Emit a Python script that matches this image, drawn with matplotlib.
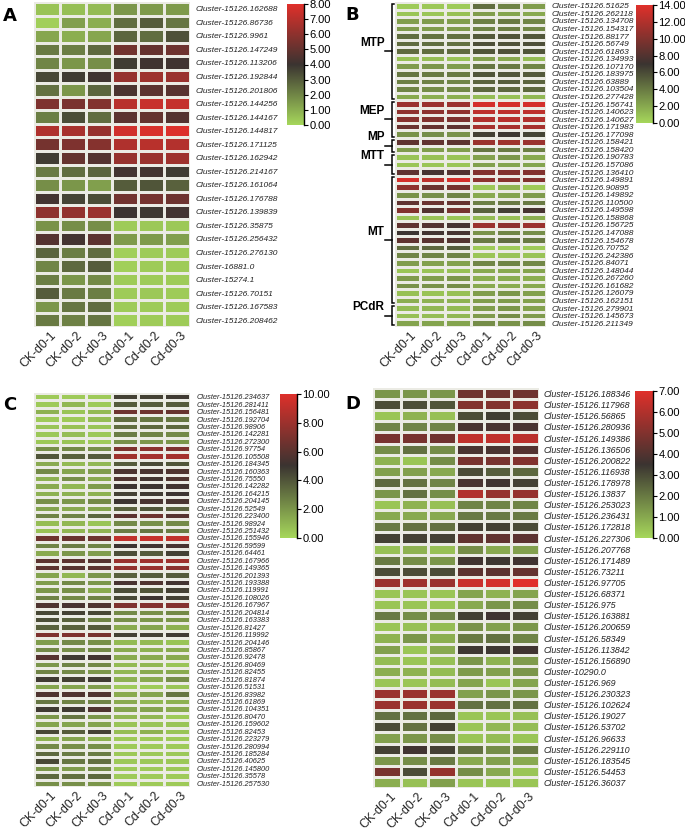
import matplotlib.pyplot as plt
import numpy as np
from matplotlib.colors import LinearSegmentedColormap
from matplotlib.transforms import ScaledTranslation

plt.rcParams['font.family'] = ['Liberation Sans', 'DejaVu Sans']

samples = ['CK-d0-1', 'CK-d0-2', 'CK-d0-3', 'Cd-d0-1', 'Cd-d0-2', 'Cd-d0-3']

# Panel A (scale 0-8)
a_ids = ['15126.162688', '15126.86736', '15126.9961', '15126.147249', '15126.113206',
         '15126.192844', '15126.201806', '15126.144256', '15126.144167', '15126.144817',
         '15126.171125', '15126.162942', '15126.214167', '15126.161064', '15126.176788',
         '15126.139839', '15126.35875', '15126.256432', '15126.276130', '16881.0',
         '15274.1', '15126.70151', '15126.167583', '15126.208462']
a_values = [
    [0.5, 0.6, 0.7, 1.6, 1.5, 1.5], [0.2, 1.4, 1.0, 2.6, 3.0, 2.4],
    [1.2, 1.0, 1.2, 2.8, 2.6, 3.3], [2.3, 2.2, 2.7, 5.3, 5.0, 5.2],
    [2.0, 1.6, 1.8, 3.8, 4.1, 4.1], [3.5, 3.8, 4.1, 6.2, 6.4, 6.3],
    [2.5, 1.6, 2.8, 4.4, 4.8, 4.7], [5.6, 5.5, 5.7, 7.0, 7.4, 7.3],
    [2.2, 3.4, 2.6, 4.8, 5.0, 4.6], [6.8, 6.6, 6.2, 7.6, 7.8, 7.9],
    [5.4, 5.6, 5.8, 6.8, 7.0, 6.9], [3.8, 5.0, 4.6, 6.2, 6.3, 6.4],
    [2.3, 2.6, 2.8, 4.2, 4.2, 3.8], [1.8, 1.6, 1.4, 3.0, 3.2, 2.9],
    [4.2, 3.6, 3.4, 5.3, 5.4, 5.2], [6.0, 6.1, 6.3, 4.0, 3.9, 4.2],
    [1.7, 1.8, 1.8, 0.3, 0.4, 0.4], [4.6, 4.2, 4.8, 1.5, 1.5, 1.4],
    [2.8, 2.2, 2.6, 0.2, 0.3, 0.3], [2.0, 2.7, 3.0, 0.2, 0.3, 0.3],
    [2.2, 1.6, 1.9, 0.3, 0.3, 0.3], [3.0, 2.3, 2.2, 0.3, 0.4, 0.3],
    [1.6, 2.4, 2.6, 0.3, 0.3, 0.3], [2.3, 2.1, 2.4, 0.2, 0.3, 0.3]]

# Panel B (scale 0-14)
b_ids = ['51625', '262118', '134708', '154317', '88177', '56749', '61863', '134993',
         '107170', '183975', '63889', '103504', '277428', '156741', '140623', '140627',
         '171983', '177098', '158421', '158420', '190783', '157086', '136410', '149891',
         '90895', '149892', '110500', '149598', '158868', '156725', '147088', '154678',
         '70752', '242386', '84071', '148044', '267260', '161682', '126079', '162151',
         '279901', '145673', '211349']
b_values = [
    [0.5, 0.7, 0.5, 4.5, 3.6, 2.5], [0.8, 0.8, 1.0, 2.5, 2.2, 2.0],
    [2.5, 2.6, 2.5, 3.8, 4.0, 3.5], [2.6, 2.5, 2.6, 3.6, 3.8, 3.4],
    [4.5, 4.3, 4.4, 5.4, 5.6, 5.5], [4.6, 4.5, 4.4, 5.8, 5.7, 5.8],
    [4.7, 4.6, 4.7, 5.6, 5.7, 5.6], [1.0, 1.1, 0.9, 2.3, 2.0, 1.2],
    [2.6, 2.8, 2.5, 4.2, 4.0, 3.5], [4.2, 4.0, 4.0, 5.6, 5.5, 5.4],
    [3.8, 3.7, 3.6, 5.0, 5.2, 5.0], [3.5, 3.2, 3.4, 4.8, 4.8, 4.8],
    [2.0, 1.8, 1.8, 1.2, 1.0, 1.4], [11.0, 11.0, 11.0, 13.5, 13.5, 13.5],
    [10.5, 10.4, 10.5, 12.5, 12.5, 12.5], [10.2, 10.0, 9.8, 12.0, 12.2, 12.0],
    [9.0, 8.8, 8.5, 11.5, 11.5, 11.5], [3.0, 3.2, 3.0, 6.5, 6.8, 6.3],
    [8.5, 8.6, 8.4, 11.0, 11.2, 11.0], [2.6, 2.5, 2.5, 4.2, 4.0, 3.8],
    [0.9, 1.0, 0.9, 2.3, 2.8, 2.0], [0.8, 0.8, 0.8, 2.4, 2.2, 2.2],
    [8.5, 7.5, 8.0, 10.0, 10.0, 10.0], [13.5, 12.5, 13.5, 10.5, 10.3, 10.0],
    [10.5, 9.0, 9.5, 0.7, 1.5, 0.6], [3.0, 3.1, 3.5, 2.0, 2.2, 2.6],
    [8.5, 9.0, 8.8, 3.8, 4.0, 4.0], [10.0, 8.0, 9.5, 5.0, 6.5, 7.5],
    [0.9, 0.9, 0.8, 1.2, 1.0, 1.8], [8.5, 8.0, 7.5, 11.0, 10.5, 11.0],
    [7.0, 7.3, 7.5, 3.0, 3.5, 3.2], [8.5, 8.3, 8.0, 4.0, 4.5, 4.0],
    [4.5, 4.8, 5.3, 0.5, 0.5, 0.6], [3.5, 3.5, 3.6, 0.8, 0.9, 0.9],
    [2.5, 2.4, 2.3, 3.5, 3.6, 3.4], [0.8, 0.9, 1.0, 2.0, 2.0, 2.2],
    [2.6, 2.5, 2.8, 1.8, 1.9, 1.8], [3.0, 3.0, 3.2, 2.0, 1.9, 2.0],
    [1.0, 0.9, 1.0, 2.5, 2.8, 2.4], [1.8, 1.6, 1.6, 2.5, 2.6, 2.4],
    [1.2, 1.4, 1.3, 2.5, 2.8, 2.3], [1.0, 1.1, 1.4, 2.6, 3.2, 2.6],
    [2.2, 2.2, 2.2, 3.2, 3.0, 3.2]]
b_groups = ['MTP', 'MEP', 'MP', 'MTT', 'MT', 'PCdR']
b_group_sizes = [13, 5, 2, 3, 17, 3]

# Panel C (scale 0-10)
c_ids = ['234637', '281411', '156481', '192704', '98906', '142281', '272300', '97754',
         '105508', '184345', '160363', '75550', '142282', '164215', '204145', '52549',
         '223400', '98924', '251432', '155946', '59599', '64461', '167966', '149365',
         '201393', '193388', '119991', '108026', '167967', '204814', '163383', '81427',
         '119992', '204146', '85867', '92478', '80469', '82455', '81874', '51531',
         '83982', '61869', '104351', '80470', '159602', '82453', '223279', '280994',
         '185284', '40625', '145800', '35578', '257530']
c_values = [
    [0.4, 0.4, 0.4, 4.6, 4.6, 4.8], [0.4, 1.0, 0.4, 3.8, 3.8, 3.8],
    [1.2, 0.6, 0.9, 6.5, 6.5, 6.3], [0.4, 0.4, 0.8, 3.3, 3.0, 3.0],
    [0.6, 0.7, 0.6, 3.3, 3.4, 3.4], [0.5, 0.8, 0.5, 2.8, 2.6, 2.4],
    [0.5, 0.6, 0.4, 2.2, 2.0, 2.0], [2.2, 2.4, 2.2, 7.0, 7.4, 7.0],
    [4.0, 3.6, 3.8, 8.0, 8.2, 8.2], [1.4, 0.9, 1.0, 3.8, 4.3, 4.0],
    [2.4, 1.6, 1.8, 5.5, 5.4, 5.6], [1.2, 2.2, 1.4, 5.6, 5.2, 5.6],
    [1.4, 1.0, 1.8, 5.0, 5.0, 5.2], [1.2, 1.2, 1.2, 4.6, 4.8, 5.0],
    [2.2, 2.0, 2.4, 5.0, 5.4, 5.4], [1.6, 1.4, 1.6, 3.6, 4.0, 3.6],
    [2.6, 2.6, 3.5, 6.0, 6.5, 5.8], [0.8, 1.0, 0.6, 2.4, 2.2, 2.4],
    [0.7, 1.0, 1.1, 2.8, 3.0, 2.8], [6.5, 6.4, 6.5, 9.0, 9.2, 9.0],
    [2.6, 2.8, 2.6, 5.0, 5.2, 5.4], [1.4, 2.0, 1.8, 4.2, 3.8, 4.6],
    [6.0, 6.0, 5.8, 7.8, 8.0, 8.0], [6.0, 5.8, 6.0, 7.6, 7.8, 7.4],
    [1.6, 1.0, 2.0, 3.6, 3.8, 3.8], [1.8, 2.4, 2.0, 5.4, 5.6, 5.2],
    [2.0, 2.2, 1.4, 4.2, 4.0, 4.6], [2.6, 2.4, 2.6, 4.4, 5.0, 4.6],
    [5.6, 5.4, 5.6, 7.0, 7.2, 7.2], [4.4, 4.6, 4.4, 2.4, 2.2, 2.4],
    [4.2, 3.6, 2.6, 2.2, 2.0, 2.0], [3.6, 3.6, 3.8, 1.4, 1.6, 1.2],
    [7.0, 7.0, 6.8, 4.6, 4.6, 4.8], [1.8, 2.4, 2.2, 0.9, 0.9, 0.6],
    [2.4, 2.2, 2.4, 1.4, 1.2, 1.4], [5.8, 4.8, 5.2, 1.4, 1.4, 1.4],
    [2.0, 2.6, 2.4, 0.9, 1.0, 0.6], [2.6, 2.4, 2.0, 1.0, 1.4, 1.4],
    [4.8, 4.6, 4.8, 1.2, 1.4, 2.2], [1.6, 1.6, 1.8, 0.4, 0.4, 0.6],
    [5.6, 5.6, 5.6, 1.4, 1.6, 3.0], [3.0, 2.6, 2.6, 1.4, 1.0, 1.2],
    [4.8, 4.8, 5.6, 1.6, 1.6, 1.4], [2.0, 3.0, 2.0, 1.0, 1.0, 0.4],
    [1.6, 1.6, 1.6, 0.6, 0.6, 0.6], [4.4, 3.8, 4.6, 0.8, 1.2, 0.6],
    [1.2, 1.6, 1.2, 0.4, 0.4, 0.4], [2.4, 2.2, 2.2, 0.4, 0.4, 0.4],
    [3.4, 2.8, 2.8, 0.5, 0.5, 0.5], [4.4, 3.0, 3.2, 0.5, 0.5, 0.5],
    [2.0, 1.8, 2.4, 0.4, 0.4, 0.5], [3.4, 3.2, 3.4, 0.4, 0.4, 0.4],
    [2.2, 2.2, 2.0, 0.4, 0.4, 0.4]]

# Panel D (scale 0-7)
d_ids = ['15126.188346', '15126.117968', '15126.56865', '15126.280936', '15126.149386',
         '15126.136506', '15126.200822', '15126.116938', '15126.178978', '15126.13837',
         '15126.253023', '15126.236431', '15126.172818', '15126.227306', '15126.207768',
         '15126.171489', '15126.73211', '15126.97705', '15126.68371', '15126.975',
         '15126.163881', '15126.200659', '15126.58349', '15126.113842', '15126.156890',
         '10290.0', '15126.969', '15126.230323', '15126.102624', '15126.19027',
         '15126.53702', '15126.96633', '15126.229110', '15126.183545', '15126.54453',
         '15126.36037']
d_values = [
    [1.4, 1.4, 1.4, 4.6, 4.6, 4.6], [3.0, 2.9, 2.8, 5.0, 5.0, 5.2],
    [0.4, 0.8, 0.5, 3.0, 3.3, 3.0], [1.8, 1.8, 1.8, 3.8, 3.8, 3.8],
    [4.8, 4.8, 4.6, 6.3, 6.3, 6.2], [1.6, 2.2, 1.6, 3.8, 3.8, 4.0],
    [0.8, 0.4, 1.6, 4.8, 4.8, 5.0], [1.2, 1.2, 1.0, 3.0, 2.6, 2.4],
    [2.4, 2.2, 1.8, 3.8, 3.6, 3.2], [1.4, 2.2, 1.6, 6.0, 5.4, 5.4],
    [0.4, 0.8, 0.5, 1.8, 1.8, 1.8], [1.0, 1.0, 1.0, 2.0, 2.0, 2.0],
    [2.0, 2.2, 2.2, 3.2, 3.2, 3.0], [3.2, 3.2, 3.2, 4.3, 4.3, 4.2],
    [0.5, 0.8, 0.5, 1.6, 1.0, 1.2], [2.0, 1.6, 1.4, 3.6, 3.4, 3.6],
    [3.0, 3.0, 3.0, 4.2, 4.2, 4.4], [5.5, 5.6, 5.5, 6.5, 6.7, 7.0],
    [0.4, 0.4, 0.4, 1.1, 0.8, 1.1], [0.4, 0.4, 0.4, 1.0, 1.4, 1.6],
    [2.0, 1.6, 1.8, 3.2, 3.6, 3.2], [0.4, 0.5, 0.6, 1.5, 1.2, 1.4],
    [0.8, 1.4, 0.9, 2.0, 2.2, 1.8], [1.2, 0.4, 1.0, 3.4, 3.4, 3.6],
    [0.6, 0.4, 0.5, 1.4, 0.8, 1.3], [0.9, 0.8, 0.6, 1.3, 1.2, 1.4],
    [0.4, 0.4, 0.6, 1.1, 0.4, 1.1], [5.5, 5.5, 5.5, 1.2, 1.4, 1.4],
    [5.5, 5.5, 5.5, 2.2, 2.2, 2.2], [2.2, 2.2, 2.4, 0.4, 0.4, 0.5],
    [3.0, 2.2, 3.2, 0.4, 0.7, 0.6], [1.2, 1.4, 1.6, 0.4, 0.6, 0.4],
    [3.2, 3.6, 3.2, 2.2, 1.6, 2.0], [1.4, 1.6, 2.0, 1.0, 1.2, 1.0],
    [4.8, 3.0, 5.4, 1.6, 1.0, 0.4], [0.9, 0.5, 1.2, 0.4, 0.4, 0.4]]

cmap = LinearSegmentedColormap.from_list('gkr', ['#a6d75b', '#3b3431', '#e0302b'])

W, H = 685, 833
fig = plt.figure(figsize=(W / 100, H / 100), dpi=100)


def px_axes(x0, y0, x1, y1):
    # axes placed by pixel box (top-left origin)
    return fig.add_axes([x0 / W, 1 - y1 / H, (x1 - x0) / W, (y1 - y0) / H])


def heatmap(box, values, labels, vmax, label_size, label_pad):
    ax = px_axes(*box)
    data = np.array(values)
    ax.pcolormesh(data, cmap=cmap, vmin=0, vmax=vmax,
                  edgecolors='#ebebe4', linewidth=0.85)
    ax.set_xlim(0, data.shape[1])
    ax.set_ylim(data.shape[0], 0)
    for s in ax.spines.values():
        s.set_visible(False)
    ax.yaxis.tick_right()
    ax.set_yticks(np.arange(len(labels)) + 0.5)
    ax.set_yticklabels(labels, fontsize=label_size, style='italic', color='#222222')
    ax.set_xticks(np.arange(len(samples)) + 0.5)
    ax.set_xticklabels(samples, fontsize=8.8, rotation=45, ha='right', va='top',
                       rotation_mode='anchor', color='#222222')
    ax.tick_params(length=0)
    ax.tick_params(axis='y', pad=label_pad)
    ax.tick_params(axis='x', pad=2)
    shift = ScaledTranslation(3 / 100, 0, fig.dpi_scale_trans)
    for lab in ax.get_xticklabels():
        lab.set_transform(lab.get_transform() + shift)
    return ax


def colorbar(box, vmax, step):
    cax = px_axes(*box)
    grad = np.linspace(0, vmax, 256).reshape(-1, 1)
    cax.imshow(grad, aspect='auto', cmap=cmap, vmin=0, vmax=vmax,
               origin='lower', extent=[0, 1, 0, vmax])
    for side in ['left', 'top', 'bottom']:
        cax.spines[side].set_visible(False)
    cax.spines['right'].set_linewidth(1.0)
    cax.set_xticks([])
    cax.yaxis.tick_right()
    ticks = np.arange(0, vmax + 0.01, step)
    cax.set_yticks(ticks)
    cax.set_yticklabels([f'{t:.2f}' for t in ticks], fontsize=8)
    cax.tick_params(axis='y', length=3, width=0.8, pad=1)
    cax.set_ylim(0, vmax)


# A
heatmap((34, 2, 190, 327), a_values, ['Cluster-' + i for i in a_ids], 8, 6.0, 4)
colorbar((287, 4, 304, 125), 8, 1)

# B
axb = heatmap((395, 2, 546, 327), b_values, ['Cluster-15126.' + i for i in b_ids], 14, 6.0, 4)
colorbar((636, 5, 653, 123), 14, 2)
start = 0
for name, n in zip(b_groups, b_group_sizes):
    top, bot = start + 0.2, start + n - 0.2
    mid = start + n / 2
    xv, xe, xp = -0.12, -0.03, -0.38
    axb.plot([xe, xv, xv, xe], [top, top, bot, bot], color='black', lw=1.1,
             clip_on=False, solid_joinstyle='miter')
    axb.plot([xv, xp], [mid, mid], color='black', lw=1.1, clip_on=False)
    axb.text(xp - 0.04, mid - 0.3, name, ha='right', va='bottom', fontsize=8.5,
             fontweight='bold')
    start += n

# C
heatmap((34, 393, 190, 787), c_values, ['Cluster-15126.' + i for i in c_ids], 10, 5.3, 5)
colorbar((280, 394, 297, 538), 10, 2)

# D
heatmap((373, 388, 539, 788), d_values, ['Cluster-' + i for i in d_ids], 7, 6.4, 3.5)
colorbar((635, 391, 653, 538), 7, 1)

# panel letters
for letter, x, y in [('A', 3, 7), ('B', 345, 6), ('C', 3, 396), ('D', 345, 395)]:
    fig.text(x / W, 1 - y / H, letter, fontsize=13, fontweight='bold', va='top', ha='left',
             family='DejaVu Sans')

fig.savefig('out.png', dpi=100)
